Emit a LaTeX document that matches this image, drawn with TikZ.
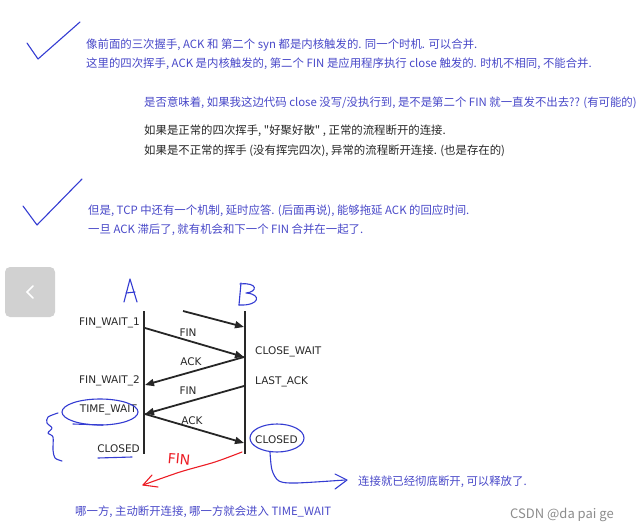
\documentclass[tikz,border=0pt]{standalone}
\usepackage{fontspec}
\setmainfont{DejaVu Sans}
\newfontfamily\cjk{Noto Sans CJK SC}
\usetikzlibrary{arrows.meta, positioning, shapes.geometric}

\definecolor{notecol}{RGB}{72,72,200}
\definecolor{pencol}{RGB}{52,60,210}
\definecolor{redpen}{RGB}{236,28,36}
\definecolor{statecol}{RGB}{40,40,40}

\begin{document}
\begin{tikzpicture}[x=1pt, y=-1pt,
    note/.style={anchor=west, inner sep=0pt, text=notecol, font=\cjk\fontsize{11.4}{13}\selectfont},
    darktext/.style={note, text=black!85},
    statelbl/.style={inner sep=0pt, text=statecol, font=\fontsize{10.5}{12}\selectfont},
    ink/.style={draw=pencol, line width=1.1pt, line cap=round, line join=round},
    msg/.style={-{Triangle[length=9pt,width=7pt]}, line width=1.8pt, draw=black!85}
]
\useasboundingbox (0,0) rectangle (642,532);

% notes
\node[note] (l1) at (86,45) {像前面的三次握手, ACK 和 第二个 syn 都是内核触发的. 同一个时机. 可以合并.};
\node[note] (l2) at (86,64) {这里的四次挥手, ACK 是内核触发的, 第二个 FIN 是应用程序执行 close 触发的. 时机不相同, 不能合并.};
\node[note] (l3) at (144,103) {是否意味着, 如果我这边代码 close 没写/没执行到, 是不是第二个 FIN 就一直发不出去?? (有可能的)};
\node[darktext] (l4) at (144,131) {如果是正常的四次挥手, "好聚好散" , 正常的流程断开的连接.};
\node[darktext] (l5) at (144,151) {如果是不正常的挥手 (没有挥完四次), 异常的流程断开连接. (也是存在的)};
\node[note] (l6) at (88,211) {但是, TCP 中还有一个机制, 延时应答. (后面再说), 能够拖延 ACK 的回应时间.};
\node[note] (l7) at (88,230) {一旦 ACK 滞后了, 就有机会和下一个 FIN 合并在一起了.};

% checks
\draw[ink] (27,43) -- (38,59) -- (80,22);
\draw[ink] (23,206) -- (37,225) -- (82,179);

% back button
\node[fill=black!18, rounded corners=5pt, minimum width=50pt, minimum height=50pt, inner sep=0pt] (back) at (30,292) {};
\draw[white, line width=1.6pt, line cap=round] (33,286) -- (27,292) -- (33,298);

% hosts
\draw[ink] (124,302) -- (130,279) -- (137,302);
\draw[ink] (126,293) -- (135,292);
\draw[ink] (241,283) -- (239,305);
\draw[ink] (240,284) .. controls (258,282) and (258,292) .. (246,293)
  .. controls (262,294) and (260,306) .. (239,305);

\coordinate (Atop) at (144,311);
\coordinate (Abot) at (144,454);
\coordinate (Btop) at (245,311);
\coordinate (Bbot) at (245,454);
\draw[line width=2.4pt, statecol] (Atop) -- (Abot);
\draw[line width=2.4pt, statecol] (Btop) -- (Bbot);

\coordinate (s0) at (183,311);
\coordinate (b0) at (244,327);
\coordinate (a1) at (145,328);
\coordinate (b1) at (244,357);
\coordinate (a2) at (145,385);
\coordinate (b2) at (244,386);
\coordinate (a3) at (145,414);
\coordinate (b3) at (244,443);

\draw[msg] (s0) -- (b0);
\draw[msg] (a1) -- (b1);
\draw[msg] (b1) -- (a2);
\draw[msg] (b2) -- (a3);
\draw[msg] (a3) -- (b3);

\node[statelbl] (m1) at (188,333) {FIN};
\node[statelbl] (m2) at (191,362) {ACK};
\node[statelbl] (m3) at (188,391) {FIN};
\node[statelbl] (m4) at (192,421) {ACK};

\node[statelbl, anchor=east] (fw1) at (140,323) {FIN\_WAIT\_1};
\node[statelbl, anchor=east] (fw2) at (140,381) {FIN\_WAIT\_2};
\node[statelbl, anchor=east] (tw) at (137,410) {TIME\_WAIT};
\node[statelbl, anchor=east] (ca) at (140,449) {CLOSED};
\node[statelbl, anchor=west] (cw) at (255,352) {CLOSE\_WAIT};
\node[statelbl, anchor=west] (la) at (255,382) {LAST\_ACK};
\node[statelbl, anchor=west] (cb) at (255,440) {CLOSED};

% marks on A side
\draw[ink] (100,412) ellipse [x radius=38, y radius=13];
\draw[ink] (73,424) -- (103,425);
\draw[ink] (98,458) -- (132,457);
\draw[ink] plot[smooth] coordinates {(58,413) (48,417) (47,423) (52,428) (48,433) (53,437) (53,450) (55,458) (62,461)};

% red FIN
\draw[redpen, line width=1.1pt, line cap=round] plot[smooth] coordinates {(242,452) (215,462) (180,472) (143,485)};
\draw[redpen, line width=1.1pt, line cap=round, line join=round] (152,475) -- (143,485) -- (158,487);
\node[text=redpen, rotate=-5, inner sep=0pt, font=\fontsize{14}{14}\selectfont] (redfin) at (179,459) {FIN};

% marks on B side
\draw[ink] (277,438) ellipse [x radius=27, y radius=14];
\draw[ink] plot[smooth] coordinates {(270,452) (272,470) (279,481) (296,483) (345,480)};
\draw[ink] (335,474) -- (347,480) -- (335,489);
\node[note] (l8) at (358,482) {连接就已经彻底断开, 可以释放了.};

\node[note] (l9) at (75,512) {哪一方, 主动断开连接, 哪一方就会进入 TIME\_WAIT};
\node[note, text=black!45, font=\cjk\fontsize{13}{15}\selectfont] (mark) at (510,515) {CSDN @da pai ge};
\end{tikzpicture}
\end{document}
